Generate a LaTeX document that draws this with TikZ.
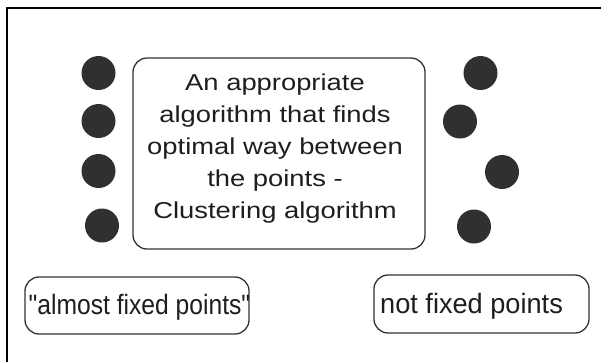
\documentclass[tikz,border=0pt]{standalone}
\usepackage{fontspec}
\newfontfamily\mainwide[FakeStretch=1.19]{Liberation Sans}
\font\lowleft="Liberation Sans:extend=0.88" at 28pt
\font\lowright="Liberation Sans:extend=0.97" at 28pt
\definecolor{ink}{HTML}{1E1E1E}
\definecolor{edge}{HTML}{333333}
\definecolor{dotfill}{HTML}{303030}
\tikzset{
  dotnode/.style={circle, fill=dotfill, draw=none, minimum size=34pt, inner sep=0pt},
  rbox/.style={draw=edge, line width=1.3pt, rounded corners=14pt, inner sep=0pt, fill=none},
  txt/.style={text=ink, inner sep=0pt}
}
\begin{document}
\begin{tikzpicture}[x=1pt, y=-1pt]
\useasboundingbox (0,0) rectangle (601,362);
\fill[white] (0,0) rectangle (601,362);
% frame (left and top edges)
\coordinate (fbl) at (7,362);
\coordinate (ftl) at (7,7.5);
\coordinate (ftr) at (601,7.5);
\draw[line width=2pt, line join=miter, black] (fbl) -- (ftl) -- (ftr);
% left column of points
\node[dotnode] (l1) at (98.5,73) {};
\node[dotnode] (l2) at (98.5,121) {};
\node[dotnode] (l3) at (98.5,171) {};
\node[dotnode] (l4) at (102,225.5) {};
% right scattered points
\node[dotnode] (r1) at (480.5,73) {};
\node[dotnode] (r2) at (460,121.5) {};
\node[dotnode] (r3) at (502,172) {};
\node[dotnode] (r4) at (474,226.5) {};
% main box
\node[rbox, minimum width=292pt, minimum height=191pt] (alg) at (279,153.5) {};
\node[txt, align=center, font=\mainwide\fontsize{23}{32}\selectfont] (algtext) at (275,149)
  {An appropriate\\algorithm that finds\\optimal way between\\the points -\\Clustering algorithm};
% lower boxes
\node[rbox, minimum width=224pt, minimum height=57pt] (afpbox) at (137,305.5) {};
\node[txt, anchor=base west, font=\lowleft] (afptext) at (28.5,314) {"almost fixed points"};
\node[rbox, minimum width=215pt, minimum height=58pt] (nfpbox) at (481.5,304) {};
\node[txt, anchor=base west, font=\lowright] (nfptext) at (380,313) {not fixed points};
\end{tikzpicture}
\end{document}
